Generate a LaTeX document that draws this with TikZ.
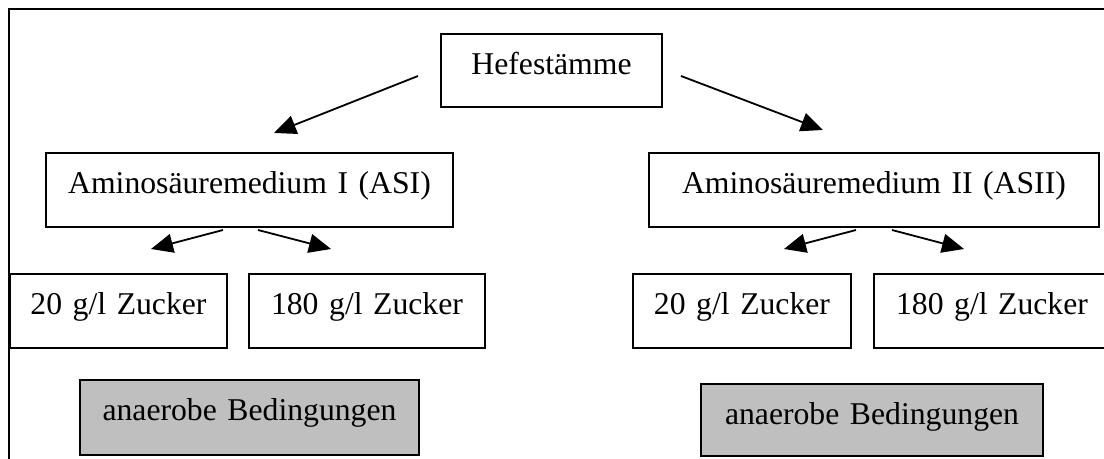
\documentclass[tikz,border=0pt]{standalone}
\usepackage{fontspec}
\setmainfont{Liberation Serif}
\usetikzlibrary{arrows.meta,calc}

\begin{document}
\begin{tikzpicture}[x=0.5pt,y=-0.5pt,
  box/.style={draw, line width=1pt, inner sep=0pt, anchor=north west,
    align=center, text height=20.5pt, text depth=16.5pt,
    font=\fontsize{15.85pt}{19pt}\selectfont},
  greybox/.style={box, fill=black!25},
  arr/.style={line width=0.9pt, -{Triangle[length=11pt,width=9.5pt]}}]

\useasboundingbox (0,0) rectangle (1104,459);
\clip (0,0) rectangle (1104,459);

% open frame: left and top edges
\draw[line width=1pt] (9,470) -- (9,9) -- (1115,9);

% boxes
\node[box, text width=110.5pt, text depth=16pt] (hefe) at (440,33) {Hefestämme};
\node[box, text width=203.5pt] (asi)  at (45,152)  {Aminosäuremedium I (ASI)};
\node[box, text width=225pt]   (asii) at (648,152) {Aminosäuremedium II (ASII)};

\node[box, text width=108.5pt] (z1) at (9,273)   {20 g/l Zucker};
\node[box, text width=118pt]   (z2) at (248,273) {180 g/l Zucker};
\node[box, text width=109pt]   (z3) at (632,273) {20 g/l Zucker};
\node[box, text width=118pt]   (z4) at (873,273) {180 g/l Zucker};

\node[greybox, text width=169.5pt, text depth=17pt]   (g1) at (79,379)  {anaerobe Bedingungen};
\node[greybox, text width=171pt, text depth=15.5pt]   (g2) at (700,383) {anaerobe Bedingungen};

% arrow end points
\coordinate (hl0) at ($(hefe.west)+(-22,5.5)$);
\coordinate (hl1) at ($(asi.north)+(24.5,-19)$);
\coordinate (hr0) at ($(hefe.east)+(18,5.5)$);
\coordinate (hr1) at ($(asii.north)+(-51,-22)$);

\coordinate (al0) at ($(asi.south)+(-26.5,2)$);
\coordinate (al1) at ($(asi.south)+(-98.5,21)$);
\coordinate (ar0) at ($(asi.south)+(8.5,2)$);
\coordinate (ar1) at ($(asi.south)+(81.5,21)$);

\coordinate (bl0) at ($(asii.south)+(-18,2)$);
\coordinate (bl1) at ($(asii.south)+(-90,21)$);
\coordinate (br0) at ($(asii.south)+(18,2)$);
\coordinate (br1) at ($(asii.south)+(90,21)$);

% arrows
\draw[arr] (hl0) -- (hl1);
\draw[arr] (hr0) -- (hr1);
\draw[arr] (al0) -- (al1);
\draw[arr] (ar0) -- (ar1);
\draw[arr] (bl0) -- (bl1);
\draw[arr] (br0) -- (br1);
\end{tikzpicture}
\end{document}
